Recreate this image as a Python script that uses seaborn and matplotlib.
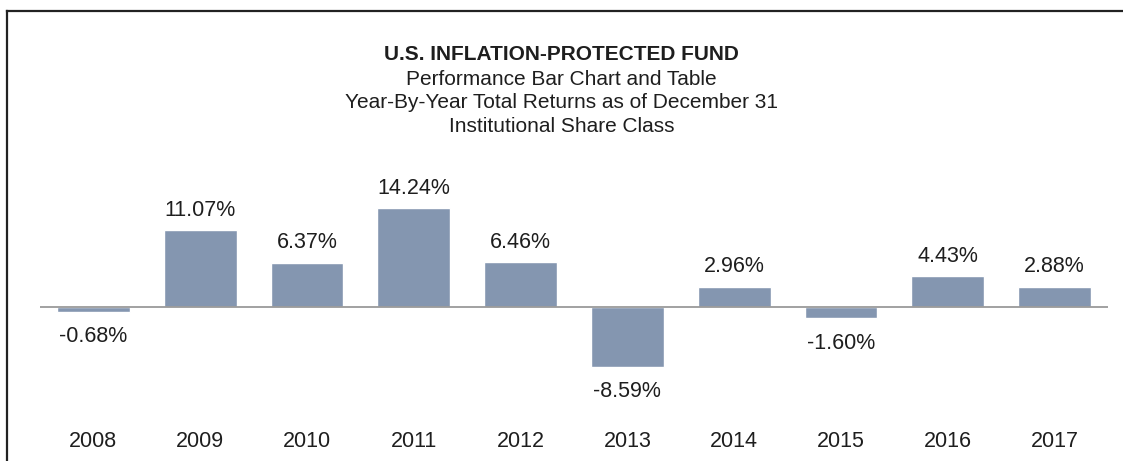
import pandas as pd
import seaborn as sns
import matplotlib.pyplot as plt

# data
years = ["2008", "2009", "2010", "2011", "2012", "2013", "2014", "2015", "2016", "2017"]
returns = [-0.68, 11.07, 6.37, 14.24, 6.46, -8.59, 2.96, -1.60, 4.43, 2.88]

title = "U.S. INFLATION-PROTECTED FUND"
subtitles = ["Performance Bar Chart and Table",
             "Year-By-Year Total Returns as of December 31",
             "Institutional Share Class"]

df = pd.DataFrame({"year": years, "ret": returns})

sns.set_style("white")
plt.rcParams["font.family"] = ["Liberation Sans", "DejaVu Sans"]

W, H = 1123, 461
fig = plt.figure(figsize=(W / 100, H / 100), dpi=100)

# frame: only top and left edges
frame = fig.add_axes([7 / W, 0, 1 - 7 / W, (H - 11) / H])
frame.set_xticks([])
frame.set_yticks([])
for s in ["right", "bottom"]:
    frame.spines[s].set_visible(False)
for s in ["top", "left"]:
    frame.spines[s].set_color("#222222")
    frame.spines[s].set_linewidth(1.6)
frame.patch.set_alpha(0)

# bar axes
ax = fig.add_axes([40 / W, (H - 420) / H, (1108 - 40) / W, 250 / H])
ax.patch.set_alpha(0)
sns.barplot(data=df, x="year", y="ret", color="#8496b0", saturation=1,
            width=0.68, ax=ax)
ax.set_xlim(-0.5, 9.5)
ax.set_ylim(-16.3, 19.77)
ax.axhline(0, color="#9a9a9a", lw=1.3, zorder=3)

for i, v in enumerate(returns):
    off = 14.5 if v >= 0 else -18
    ax.annotate(f"{v:.2f}%", (i, v), xytext=(0, off), textcoords="offset points",
                ha="center", va="center", fontsize=15.5, color="#1e1e1e")

ax.set_xlabel("")
ax.set_ylabel("")
ax.set_yticks([])
ax.tick_params(axis="x", length=0, pad=8, labelsize=15.5, labelcolor="#1e1e1e")
sns.despine(ax=ax, left=True, bottom=True)

fig.text(0.5, 1 - 55 / H, title, ha="center", va="center", fontsize=15,
         fontweight="bold", color="#1e1e1e")
for k, line in enumerate(subtitles):
    fig.text(0.5, 1 - (79 + 24 * k) / H, line, ha="center", va="center",
             fontsize=15, color="#1e1e1e")

plt.savefig("out.png", dpi=100)
